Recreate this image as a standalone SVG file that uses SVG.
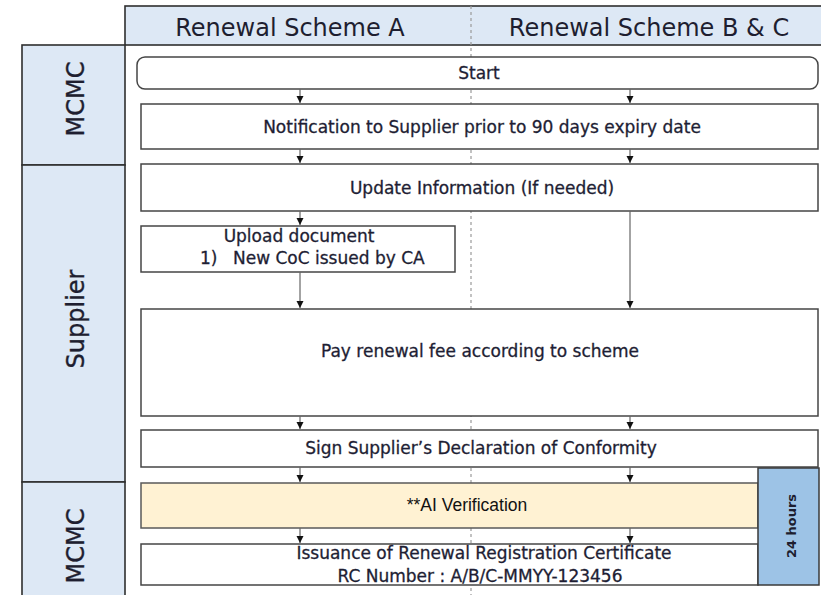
<svg xmlns="http://www.w3.org/2000/svg" width="821" height="595" viewBox="0 0 821 595">
<defs>
<marker id="arr" viewBox="0 0 8 8" refX="8" refY="4" markerWidth="7.5" markerHeight="7.5" markerUnits="userSpaceOnUse" orient="auto">
<path d="M0,0 L8,4 L0,8 z" fill="#111"/>
</marker>
<style>
.lane{fill:#dde8f5;stroke:#2f2f2f;stroke-width:1.6}
.box{fill:#ffffff;stroke:#454545;stroke-width:1.5}
.t{font-family:"DejaVu Sans","Liberation Sans",sans-serif;font-size:17px;fill:#1e1e34;stroke:#1e1e34;stroke-width:0.3;text-anchor:middle}
.h{font-family:"DejaVu Sans","Liberation Sans",sans-serif;font-size:24px;fill:#1e1e30;text-anchor:middle}
.lbl{font-family:"DejaVu Sans","Liberation Sans",sans-serif;font-size:24px;fill:#1e1e30;stroke:#1e1e30;stroke-width:0.35;text-anchor:middle}
.conn line{stroke:#666;stroke-width:1.2;marker-end:url(#arr)}
</style>
</defs>
<rect width="821" height="595" fill="#ffffff"/>
<g id="header">
<rect x="125" y="6" width="700" height="39" class="lane"/>
<text class="h" x="290" y="36">Renewal Scheme A</text>
<text class="h" x="649" y="36">Renewal Scheme B &amp; C</text>
</g>
<g id="lane-mcmc-top">
<rect x="22" y="45" width="103" height="120" class="lane"/>
<text class="lbl" transform="translate(84,99) rotate(-90)">MCMC</text>
</g>
<g id="lane-supplier">
<rect x="22" y="165" width="103" height="317" class="lane"/>
<text class="lbl" transform="translate(84,319) rotate(-90)">Supplier</text>
</g>
<g id="lane-mcmc-bottom">
<rect x="22" y="482" width="103" height="120" class="lane"/>
<text class="lbl" transform="translate(84,546) rotate(-90)">MCMC</text>
</g>
<line id="divider" x1="471" y1="6" x2="471" y2="595" stroke="#9a9a9a" stroke-width="1.2" stroke-dasharray="3,3"/>
<g id="start">
<rect x="137" y="57" width="681" height="32" rx="8" class="box"/>
<text class="t" x="479" y="79">Start</text>
</g>
<g id="notification">
<rect x="141" y="104" width="677" height="45" class="box"/>
<text class="t" x="482" y="133">Notification to Supplier prior to 90 days expiry date</text>
</g>
<g id="update">
<rect x="141" y="164" width="677" height="47" class="box"/>
<text class="t" x="482" y="194">Update Information (If needed)</text>
</g>
<g id="upload">
<rect x="141" y="226" width="314" height="46" class="box"/>
<text class="t" x="299" y="242">Upload document</text>
<text class="t" style="text-anchor:start" y="264"><tspan x="200">1)</tspan><tspan x="233">New CoC issued by CA</tspan></text>
</g>
<g id="pay">
<rect x="141" y="309" width="677" height="107" class="box"/>
<text class="t" x="480" y="357">Pay renewal fee according to scheme</text>
</g>
<g id="sign">
<rect x="141" y="430" width="677" height="37" class="box"/>
<text class="t" x="481" y="454">Sign Supplier’s Declaration of Conformity</text>
</g>
<g id="ai">
<rect x="141" y="483" width="617" height="45" fill="#fff2d3" stroke="#5a5a5a" stroke-width="1.5"/>
<text x="467" y="511" font-family="'Liberation Sans',Arial,sans-serif" font-size="17.5" fill="#111" text-anchor="middle">**AI Verification</text>
</g>
<g id="issuance">
<rect x="141" y="544" width="617" height="41" class="box"/>
<text class="t" x="484" y="559">Issuance of Renewal Registration Certificate</text>
<text class="t" x="480" y="582">RC Number : A/B/C-MMYY-123456</text>
</g>
<g id="hours">
<rect x="758" y="468" width="61" height="117" fill="#9dc3e6" stroke="#3a3a3a" stroke-width="1.5"/>
<text transform="translate(796,526) rotate(-90)" font-family="'DejaVu Sans',sans-serif" font-size="13" font-weight="bold" fill="#1e1e30" text-anchor="middle">24 hours</text>
</g>
<g id="connectors" class="conn">
<line x1="300" y1="89" x2="300" y2="103"/>
<line x1="630" y1="89" x2="630" y2="103"/>
<line x1="300" y1="149" x2="300" y2="163"/>
<line x1="630" y1="149" x2="630" y2="163"/>
<line x1="300" y1="211" x2="300" y2="225"/>
<line x1="300" y1="272" x2="300" y2="308"/>
<line x1="630" y1="211" x2="630" y2="308"/>
<line x1="300" y1="416" x2="300" y2="429"/>
<line x1="630" y1="416" x2="630" y2="429"/>
<line x1="300" y1="467" x2="300" y2="482"/>
<line x1="630" y1="467" x2="630" y2="482"/>
<line x1="300" y1="528" x2="300" y2="543"/>
<line x1="630" y1="528" x2="630" y2="543"/>
</g>
</svg>
